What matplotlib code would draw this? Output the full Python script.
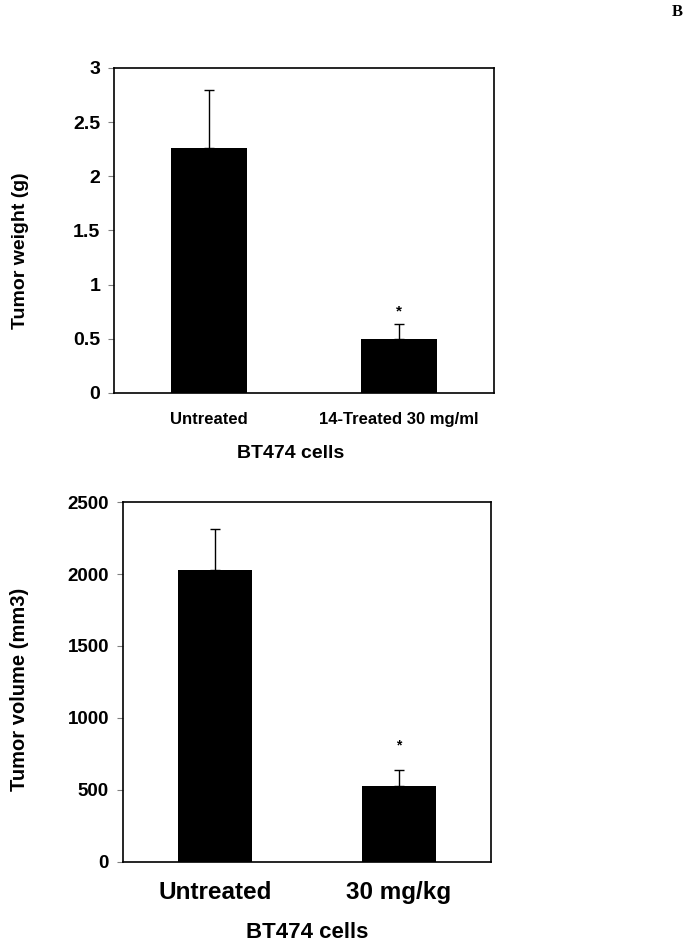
import matplotlib
matplotlib.use("Agg")
import matplotlib.pyplot as plt

plt.rcParams["font.family"] = ["Liberation Sans", "DejaVu Sans"]
plt.rcParams["font.weight"] = "bold"
plt.rcParams["axes.labelweight"] = "bold"

# -----------------------------
# DATA
# -----------------------------
weight_groups = ["Untreated", "14-Treated 30 mg/ml"]
weight_means = [2.265, 0.50]
weight_err = [0.535, 0.14]

volume_groups = ["Untreated", "30 mg/kg"]
volume_means = [2030, 525]
volume_err = [285, 115]

fig = plt.figure(figsize=(6.87, 9.44), dpi=100)

# -----------------------------
# TOP PANEL: tumor weight
# -----------------------------
ax1 = fig.add_axes([0.166, 0.5837, 0.553, 0.3443])
x = range(len(weight_groups))
ax1.bar(x, weight_means, width=0.4, color="black", zorder=2)
ax1.errorbar(x, weight_means, yerr=[[0, 0], weight_err], fmt="none",
             ecolor="black", elinewidth=1, capsize=3.5, capthick=1, zorder=1)
ax1.text(1, 0.69, "*", ha="center", va="bottom", fontsize=11)
ax1.set_xlim(-0.5, 1.5)
ax1.set_ylim(0, 3)
ax1.set_yticks([0, 0.5, 1, 1.5, 2, 2.5, 3])
ax1.set_yticklabels(["0", "0.5", "1", "1.5", "2", "2.5", "3"])
ax1.set_xticks(list(x))
ax1.set_xticklabels(weight_groups, fontsize=12)
ax1.tick_params(axis="y", labelsize=14, length=4, width=0.8, color="gray", pad=6)
ax1.tick_params(axis="x", length=0, pad=14)
ax1.set_ylabel("Tumor weight (g)", fontsize=14)
ax1.yaxis.set_label_coords(-0.224, 0.437)
for s in ax1.spines.values():
    s.set_linewidth(1.2)

fig.text(291 / 687, 1 - 453 / 944, "BT474 cells", ha="center", va="center",
         fontsize=14)

# -----------------------------
# BOTTOM PANEL: tumor volume
# -----------------------------
ax2 = fig.add_axes([0.179, 0.0869, 0.5357, 0.3813])
x = range(len(volume_groups))
ax2.bar(x, volume_means, width=0.4, color="black", zorder=2)
ax2.errorbar(x, volume_means, yerr=[[0, 0], volume_err], fmt="none",
             ecolor="black", elinewidth=1, capsize=3.5, capthick=1, zorder=1)
ax2.text(1, 760, "*", ha="center", va="bottom", fontsize=10)
ax2.set_xlim(-0.5, 1.5)
ax2.set_ylim(0, 2500)
ax2.set_yticks([0, 500, 1000, 1500, 2000, 2500])
ax2.set_xticks(list(x))
ax2.set_xticklabels(volume_groups, fontsize=17.5)
ax2.tick_params(axis="y", labelsize=13.5, length=4, width=0.8, color="gray", pad=6)
ax2.tick_params(axis="x", length=0, pad=14)
ax2.set_ylabel("Tumor volume (mm3)", fontsize=14.5)
ax2.yaxis.set_label_coords(-0.255, 0.479)
for s in ax2.spines.values():
    s.set_linewidth(1.2)

fig.text(307 / 687, 1 - 933 / 944, "BT474 cells", ha="center", va="center",
         fontsize=16)

fig.text(677 / 687, 1 - 12 / 944, "B", ha="center", va="center",
         fontsize=12, family=["Liberation Serif", "DejaVu Serif"])

fig.savefig("out.png", dpi=100)
